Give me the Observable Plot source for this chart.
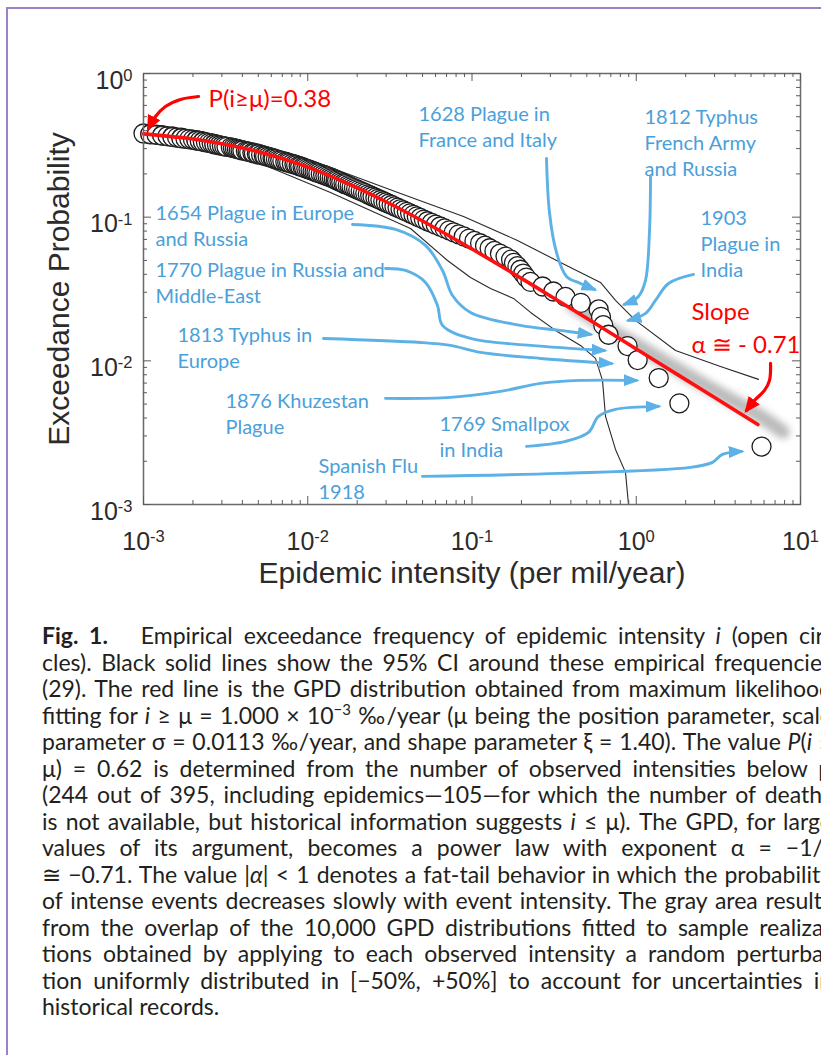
<!DOCTYPE html>
<html><head><meta charset="utf-8">
<script src="https://cdn.jsdelivr.net/npm/d3@7"></script>
<script src="https://cdn.jsdelivr.net/npm/@observablehq/plot@0.6"></script>
<style>
html,body{margin:0;padding:0;background:#fff;width:821px;height:1055px;overflow:hidden;position:relative;}
#border{position:absolute;left:6px;top:7px;width:900px;height:1200px;border-top:2px solid #9d80c9;border-left:2px solid #9d80c9;}
#chart{position:absolute;left:0;top:0;}
#caption{position:absolute;left:42px;top:622px;width:790px;font-family:Lato,"Open Sans",sans-serif;font-size:21px;line-height:26.5px;color:#231f20;}
#caption .ln{text-align:justify;text-align-last:justify;height:26.5px;overflow:visible;}
#caption .last{text-align:left;text-align-last:left;}
#caption .sup{font-size:0.65em;position:relative;top:-0.55em;}
#measure{position:absolute;left:0;top:-200px;white-space:nowrap;font-family:Lato,"Open Sans",sans-serif;visibility:hidden;}
</style>
</head><body>
<div id="border"></div>
<div id="chart"></div>
<div id="caption">
<div class="ln"><b>Fig. 1.</b>&nbsp;&nbsp; Empirical exceedance frequency of epidemic intensity <i>i</i> (open cir-</div>
<div class="ln">cles). Black solid lines show the 95% CI around these empirical frequencies</div>
<div class="ln">(29). The red line is the GPD distribution obtained from maximum likelihood</div>
<div class="ln">fitting for <i>i</i> ≥ μ = 1.000 × 10<span class="sup">−3</span> ‰/year (μ being the position parameter, scale</div>
<div class="ln">parameter σ = 0.0113 ‰/year, and shape parameter ξ = 1.40). The value <i>P</i>(<i>i</i> ≤</div>
<div class="ln">μ) = 0.62 is determined from the number of observed intensities below μ</div>
<div class="ln">(244 out of 395, including epidemics—105—for which the number of deaths</div>
<div class="ln">is not available, but historical information suggests <i>i</i> ≤ μ). The GPD, for large</div>
<div class="ln">values of its argument, becomes a power law with exponent α = −1/ξ</div>
<div class="ln">≅ −0.71. The value |<i>α</i>| &lt; 1 denotes a fat-tail behavior in which the probability</div>
<div class="ln">of intense events decreases slowly with event intensity. The gray area results</div>
<div class="ln">from the overlap of the 10,000 GPD distributions fitted to sample realiza-</div>
<div class="ln">tions obtained by applying to each observed intensity a random perturba-</div>
<div class="ln">tion uniformly distributed in [−50%, +50%] to account for uncertainties in</div>
<div class="ln last">historical records.</div>
</div>
<span id="measure"></span>
<script>
// ---------- DATA ----------
// empirical intensities (per mil/year), rank 1 (largest) .. 151
const intensity = [5.79,1.83,1.37,1.02,0.885,0.678,0.63,0.61,0.59,0.46,
0.371,0.313,0.269,0.227,0.214,0.205,0.197,0.189,0.180,0.173,
0.160,0.148,0.137,0.128,0.120,0.112,0.1035,0.0959,0.0891,0.0830,
0.0774,0.0726,0.0681,0.0640,0.0601,0.0568,0.0536,0.0509,0.0484,0.0461,
0.0440,0.0420,0.0401,0.0383,0.0367,0.0352,0.0337,0.0324,0.0311,0.0299,
0.0288,0.0277,0.0267,0.0258,0.0248,0.0240,0.0232,0.0224,0.0217,0.0210,
0.0203,0.0197,0.0191,0.0185,0.0180,0.0175,0.0169,0.0165,0.0160,0.0156,
0.0151,0.0148,0.0144,0.0140,0.0136,0.0132,0.0128,0.0124,0.0120,0.0116,
0.0113,0.0110,0.0107,0.0104,0.0101,0.0098,0.0095,0.0093,0.0090,0.0088,
0.0085,0.0083,0.0080,0.0077,0.0075,0.0073,0.0070,0.0068,0.0066,0.0064,
0.0062,0.0061,0.0059,0.0057,0.0055,0.0054,0.0052,0.0050,0.0049,0.0047,
0.0046,0.0044,0.0043,0.0042,0.0040,0.0039,0.0038,0.0037,0.0036,0.0035,
0.0034,0.0032,0.0031,0.0030,0.0029,0.0028,0.0027,0.0027,0.0026,0.0025,
0.0024,0.0023,0.0023,0.0022,0.0021,0.0021,0.0020,0.0019,0.0018,0.0017,
0.0017,0.0016,0.0015,0.0015,0.0014,0.0013,0.0013,0.0012,0.0011,0.0011,0.0010];
// empirical exceedance probability for each rank
const exceedance = [0.00253,0.00506,0.00759,0.01013,0.01266,0.01519,0.01772,0.02025,0.02278,0.02532,
0.02785,0.03038,0.03291,0.03544,0.03797,0.04051,0.04304,0.04557,0.04810,0.05063,
0.05316,0.05570,0.05823,0.06076,0.06329,0.06582,0.06835,0.07089,0.07342,0.07595,
0.07848,0.08101,0.08354,0.08608,0.08861,0.09114,0.09367,0.09620,0.09873,0.10127,
0.10380,0.10633,0.10886,0.11139,0.11392,0.11646,0.11899,0.12152,0.12405,0.12658,
0.12911,0.13165,0.13418,0.13671,0.13924,0.14177,0.14430,0.14684,0.14937,0.15190,
0.15443,0.15696,0.15949,0.16203,0.16456,0.16709,0.16962,0.17215,0.17468,0.17722,
0.17975,0.18228,0.18481,0.18734,0.18987,0.19241,0.19494,0.19747,0.20000,0.20253,
0.20506,0.20759,0.21013,0.21266,0.21519,0.21772,0.22025,0.22278,0.22532,0.22785,
0.23038,0.23291,0.23544,0.23797,0.24051,0.24304,0.24557,0.24810,0.25063,0.25316,
0.25570,0.25823,0.26076,0.26329,0.26582,0.26835,0.27089,0.27342,0.27595,0.27848,
0.28101,0.28354,0.28608,0.28861,0.29114,0.29367,0.29620,0.29873,0.30127,0.30380,
0.30633,0.30886,0.31139,0.31392,0.31646,0.31899,0.32152,0.32405,0.32658,0.32911,
0.33165,0.33418,0.33671,0.33924,0.34177,0.34430,0.34684,0.34937,0.35190,0.35443,
0.35696,0.35949,0.36203,0.36456,0.36709,0.36962,0.37215,0.37468,0.37722,0.37975,0.38228];

// 95% CI lines [intensity, probability]
const ciUpper = [[0.001,0.4416],[0.002223,0.3948],[0.005157,0.3206],[0.01375,0.2218],[0.0367,0.1462],[0.08879,0.1011],[0.1892,0.06884],[0.3457,0.04839],[0.6058,0.03512],[0.7476,0.02633],[0.9895,0.01911],[1.734,0.01181],[3.257,0.009141],[5.551,0.007427]];
const ciLower = [[0.001,0.3311],[0.002223,0.2911],[0.005157,0.2364],[0.01375,0.1485],[0.04223,0.08344],[0.07092,0.04996],[0.09793,0.03805],[0.1296,0.0319],[0.1789,0.02718],[0.2272,0.02172],[0.3224,0.01628],[0.4577,0.0128],[0.5647,0.01039],[0.6231,0.007306],[0.6499,0.004102],[0.7476,0.002417],[0.8602,0.001673],[0.897,0.001]];

// GPD fit (red line)
const gpdIntensity = [0.001,0.002,0.003,0.005,0.01,0.02,0.03,0.05,0.1,0.2,0.3,0.5,1,2,3,5.5];
const gpdProb = [0.38,0.350,0.324,0.285,0.223,0.160,0.128,0.094,0.060,0.0375,0.0283,0.0198,0.0121,0.0074,0.00555,0.0036];
// gray uncertainty band
const bandIntensity = [0.4,0.7,1,2,3,5.5,7.6];
const bandProb = [0.0235,0.0155,0.0123,0.0077,0.0059,0.0040,0.0031];

// axes
const xTicks = [0.001,0.01,0.1,1,10];
const xTickLabels = ["10^-3","10^-2","10^-1","10^0","10^1"];
const yTicks = [0.001,0.01,0.1,1];
const yTickLabels = ["10^-3","10^-2","10^-1","10^0"];
const xTitle = "Epidemic intensity (per mil/year)";
const yTitle = "Exceedance Probability";

// annotations
const blueLabelText = ["1628 Plague in\nFrance and Italy","1812 Typhus\nFrench Army\nand Russia","1654 Plague in Europe\nand Russia","1903\nPlague in\nIndia","1770 Plague in Russia and\nMiddle-East","1813 Typhus in\nEurope","1876 Khuzestan\nPlague","1769 Smallpox\nin India","Spanish Flu\n1918"];
const blueLabelX = [0.04722,1.1225,0.001183,2.462,0.001183,0.001611,0.003157,0.0634,0.01163];
const blueLabelY = [0.4311,0.3363,0.08826,0.06667,0.03569,0.0125,0.004374,0.003027,0.001543];
const redLabelText = ["P(i≥μ)=0.38","Slope","α ≅ - 0.71"];
const redLabelX = [0.002487,2.170,2.170];
const redLabelY = [0.6594,0.02172,0.0128];

const arrow1628 = [[0.2841,0.2562],[0.2963,0.1078],[0.3268,0.0568],[0.3761,0.03867],[0.4577,0.03456],[0.5568,0.03139]];
const arrow1812 = [[1.2214,0.1919],[1.2044,0.08081],[1.1385,0.03626],[1.032,0.02807],[0.8481,0.02469]];
const arrow1903 = [[2.232,0.03995],[1.5714,0.03456],[1.3096,0.02633],[1.1385,0.02138],[0.897,0.01911]];
const arrow1654 = [[0.01874,0.08898],[0.03421,0.08212],[0.0521,0.06355],[0.06614,0.04257],[0.07607,0.02851],[0.09793,0.02172],[0.1973,0.01764],[0.3457,0.01628],[0.5267,0.01527]];
const arrow1770 = [[0.02974,0.04395],[0.03937,0.04257],[0.0521,0.03512],[0.06166,0.0243],[0.06614,0.01764],[0.09793,0.01432],[0.2272,0.0128],[0.6406,0.01181]];
const arrow1813 = [[0.01247,0.01432],[0.04859,0.01343],[0.07396,0.0128],[0.1127,0.01144],[0.2612,0.01039],[0.7067,0.009592]];
const arrow1876 = [[0.02974,0.005475],[0.07396,0.005564],[0.1491,0.006125],[0.2612,0.006963],[0.4577,0.007306],[1.0035,0.007306]];
const arrow1769 = [[0.2147,0.002537],[0.371,0.002749],[0.5121,0.003177],[0.5891,0.004102],[0.7476,0.00459],[1.366,0.004817]];
const arrow1918 = [[0.04995,0.001569],[0.3457,0.001646],[2.139,0.001812],[2.912,0.001963],[3.35,0.002232],[4.373,0.002342]];
const arrowP = [[0.002163,0.6917],[0.00168,0.6594],[0.001361,0.5893],[0.001183,0.5021],[0.001073,0.4143]];
const arrowSlope = [[6.569,0.009592],[6.477,0.007306],[6.036,0.006223],[5.246,0.005302],[4.691,0.004516]];

// ---------- BUILD ----------
const pts = intensity.map((v,k)=>({x:v, y:exceedance[k]})).reverse();
const toRows = (arr,name)=>arr.map(([x,y])=>({x,y,name}));
const gpdRows = gpdIntensity.map((v,k)=>({x:v,y:gpdProb[k]}));
const bandRows = bandIntensity.map((v,k)=>({x:v,y:bandProb[k]}));
const blueArrowRows = [].concat(toRows(arrow1628,"a"),toRows(arrow1812,"b"),toRows(arrow1903,"c"),toRows(arrow1654,"d"),toRows(arrow1770,"e"),toRows(arrow1813,"f"),toRows(arrow1876,"g"),toRows(arrow1769,"h"),toRows(arrow1918,"i"));
const redArrowRows = [].concat(toRows(arrowP,"p"),toRows(arrowSlope,"s"));
const blueLabels = blueLabelText.map((t,k)=>({t,x:blueLabelX[k],y:blueLabelY[k]}));
const redLabels = redLabelText.map((t,k)=>({t,x:redLabelX[k],y:redLabelY[k]}));
const xMinor=[], yMinor=[];
for (const d of [0.001,0.01,0.1,1]) for (let m=2;m<=9;m++){ xMinor.push(d*m); }
for (const d of [0.001,0.01,0.1]) for (let m=2;m<=9;m++){ yMinor.push(d*m); }
const xTickRows = xTicks.map((v,k)=>({v,l:xTickLabels[k]}));
const yTickRows = yTicks.map((v,k)=>({v,l:yTickLabels[k]}));

const W=821, H=612, mL=143, mR=21, mT=73, mB=H-504;
const PW=W-mL-mR, PH=H-mT-mB;
const tickC="#5a5a5a";
const axisFont="Liberation Sans, Arial, sans-serif";
const blue="#4aa0da", blueArrow="#5cb1e6", redLine="#ff1010", redArrow="#ff0000", bandC="#b4b4b4";

const svg = Plot.plot({
  width:W, height:H, marginLeft:mL, marginRight:mR, marginTop:mT, marginBottom:mB,
  x:{type:"log", domain:[0.001,10], axis:null},
  y:{type:"log", domain:[0.001,1], axis:null},
  style:{background:"transparent", fontFamily:axisFont},
  marks:[
    Plot.line(bandRows,{x:"x",y:"y",stroke:bandC,strokeWidth:14,strokeLinecap:"round",strokeOpacity:0.9,curve:"catmull-rom",dx:2,dy:-2}),
    Plot.dot(pts,{x:"x",y:"y",r:9.5,fill:"white",stroke:"#1c1c1c",strokeWidth:1.3}),
    Plot.line(ciUpper,{x:d=>d[0],y:d=>d[1],stroke:"#2a2a2a",strokeWidth:1.1}),
    Plot.line(ciLower,{x:d=>d[0],y:d=>d[1],stroke:"#2a2a2a",strokeWidth:1.1}),
    Plot.line(gpdRows,{x:"x",y:"y",stroke:redLine,strokeWidth:3.6,curve:"catmull-rom"}),
    Plot.line(blueArrowRows,{x:"x",y:"y",z:"name",stroke:blueArrow,strokeWidth:2.9,curve:"catmull-rom"}),
    Plot.line(redArrowRows,{x:"x",y:"y",z:"name",stroke:redArrow,strokeWidth:3.2,curve:"catmull-rom"}),
    Plot.text(blueLabels,{x:"x",y:"y",text:"t",textAnchor:"start",lineAnchor:"middle",lineHeight:1.3,fill:blue,fontSize:20,fontFamily:"Lato"}),
    Plot.text(redLabels,{x:"x",y:"y",text:"t",textAnchor:"start",lineAnchor:"middle",fill:redArrow,fontSize:24,fontFamily:"Lato"}),
    Plot.frame({stroke:"#6a6a6a",strokeWidth:1.5}),
    Plot.tickX(xTicks,{x:d=>d,insetTop:PH-8,stroke:tickC}),
    Plot.tickX(xTicks,{x:d=>d,insetBottom:PH-8,stroke:tickC}),
    Plot.tickX(xMinor,{x:d=>d,insetTop:PH-4,stroke:tickC}),
    Plot.tickX(xMinor,{x:d=>d,insetBottom:PH-4,stroke:tickC}),
    Plot.tickY(yTicks,{y:d=>d,insetRight:PW-8,stroke:tickC}),
    Plot.tickY(yTicks,{y:d=>d,insetLeft:PW-8,stroke:tickC}),
    Plot.tickY(yMinor,{y:d=>d,insetRight:PW-4,stroke:tickC}),
    Plot.tickY(yMinor,{y:d=>d,insetLeft:PW-4,stroke:tickC}),
    Plot.text(xTickRows,{x:"v",text:"l",frameAnchor:"bottom",dy:45,fontSize:25,fill:"#2b2b2b"}),
    Plot.text(yTickRows,{y:"v",text:"l",frameAnchor:"left",dx:-11,dy:7,textAnchor:"end",fontSize:25,fill:"#2b2b2b"}),
    Plot.text([xTitle],{text:d=>d,frameAnchor:"bottom",dy:78,fontSize:30,fill:"#2b2b2b"}),
    Plot.text([yTitle],{text:d=>d,frameAnchor:"left",textAnchor:"middle",rotate:-90,dx:-84,fontSize:30,fill:"#2b2b2b"})
  ]
});
document.getElementById("chart").appendChild(svg);

// superscripts in tick labels
d3.select(svg).selectAll("text").each(function(){
  if (this.querySelector("tspan")) return;
  const t=this.textContent; const parts=t.split("^");
  if(parts.length<2) return;
  this.textContent=parts[0];
  d3.select(this).append("tspan").attr("dy","-0.45em").attr("font-size","0.66em").text(parts[1]);
});
const byStroke = c => d3.select(svg).selectAll("g").filter(function(){return this.getAttribute("stroke")===c;}).selectAll("path");
// blurred band
byStroke(bandC).style("filter","blur(3.5px)");
// arrowheads
const defs = d3.select(svg).insert("defs",":first-child");
function marker(id,color,len,wid){
  defs.append("marker").attr("id",id).attr("viewBox","0 0 10 10").attr("refX",8).attr("refY",5)
    .attr("markerUnits","userSpaceOnUse").attr("markerWidth",len).attr("markerHeight",wid)
    .attr("preserveAspectRatio","none").attr("orient","auto")
    .append("path").attr("d","M0,0L10,5L0,10Z").attr("fill",color);
}
marker("bhead",blueArrow,16,12);
marker("rhead",redArrow,16,14);
byStroke(blueArrow).attr("marker-end","url(#bhead)");
byStroke(redArrow).attr("marker-end","url(#rhead)");

// caption: font size so the reference's plain line fills the width, others fit on one line
const meas=document.getElementById("measure");
const lines=[...document.querySelectorAll("#caption .ln")];
meas.style.fontSize="20px"; meas.innerHTML=lines[2].innerHTML;
let fs=20*776/meas.getBoundingClientRect().width; fs=Math.max(17,Math.min(23,fs));
document.getElementById("caption").style.fontSize=fs.toFixed(2)+"px";
lines.forEach(el=>{
  el.style.height="auto";
  let ls=0;
  while(el.getBoundingClientRect().height>30 && ls>-2){ls-=0.1; el.style.letterSpacing=ls.toFixed(1)+"px";}
  el.style.height="26.5px";
});
</script>
</body></html>
